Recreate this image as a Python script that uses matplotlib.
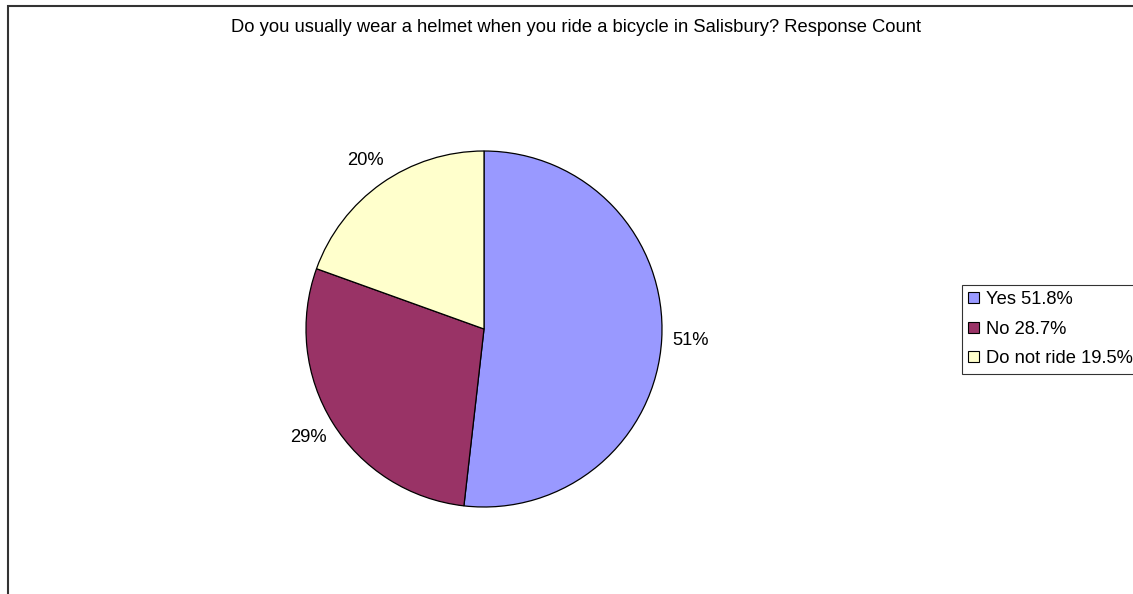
import matplotlib
matplotlib.use("Agg")
import matplotlib.pyplot as plt
import numpy as np
from matplotlib.patches import Rectangle

plt.rcParams['font.family'] = ['Liberation Sans', 'DejaVu Sans']

title = "Do you usually wear a helmet when you ride a bicycle in Salisbury? Response Count"
categories = ["Yes", "No", "Do not ride"]
values = [51.8, 28.7, 19.5]
pct_labels = ["51%", "29%", "20%"]
colors = ["#9999FF", "#993366", "#FFFFCC"]

W, H = 1133, 594
fig = plt.figure(figsize=(W / 100, H / 100), dpi=100)

# chart frame (cut off at right/bottom like the source)
fig.patches.append(Rectangle((8 / W, -0.1), 1.2, 1 - 6 / H + 0.1, transform=fig.transFigure,
                             fill=False, edgecolor="#333333", linewidth=1.5))

fig.text(576 / W, 1 - 27 / H, title, ha="center", va="center", fontsize=13.2)

cx, cy, r = 484, 329, 178
ax = fig.add_axes([(cx - r) / W, (H - cy - r) / H, 2 * r / W, 2 * r / H])
wedges, _ = ax.pie(values, colors=colors, startangle=90, counterclock=False,
                   radius=1, wedgeprops=dict(edgecolor="black", linewidth=0.9))
ax.set_xlim(-1, 1)
ax.set_ylim(-1, 1)
ax.set_aspect("equal")
ax.axis("off")

for w, lab in zip(wedges, pct_labels):
    ang = np.deg2rad((w.theta1 + w.theta2) / 2)
    ax.text(1.16 * np.cos(ang), 1.16 * np.sin(ang), lab, ha="center", va="center",
            fontsize=13.2, clip_on=False)

handles = [Rectangle((0, 0), 1, 1, facecolor=c, edgecolor="black", linewidth=0.8) for c in colors]
leg_labels = [f"{c} {v}%" for c, v in zip(categories, values)]
leg = fig.legend(handles, leg_labels, loc="upper left", bbox_to_anchor=(962 / W, 1 - 285 / H),
                 fontsize=13.2, frameon=True, fancybox=False, handlelength=0.55, handleheight=0.55,
                 handletextpad=0.4, labelspacing=0.68, borderpad=0.35, borderaxespad=0)
leg.get_frame().set_edgecolor("black")
leg.get_frame().set_linewidth(0.8)

fig.savefig("out.png", dpi=100)
